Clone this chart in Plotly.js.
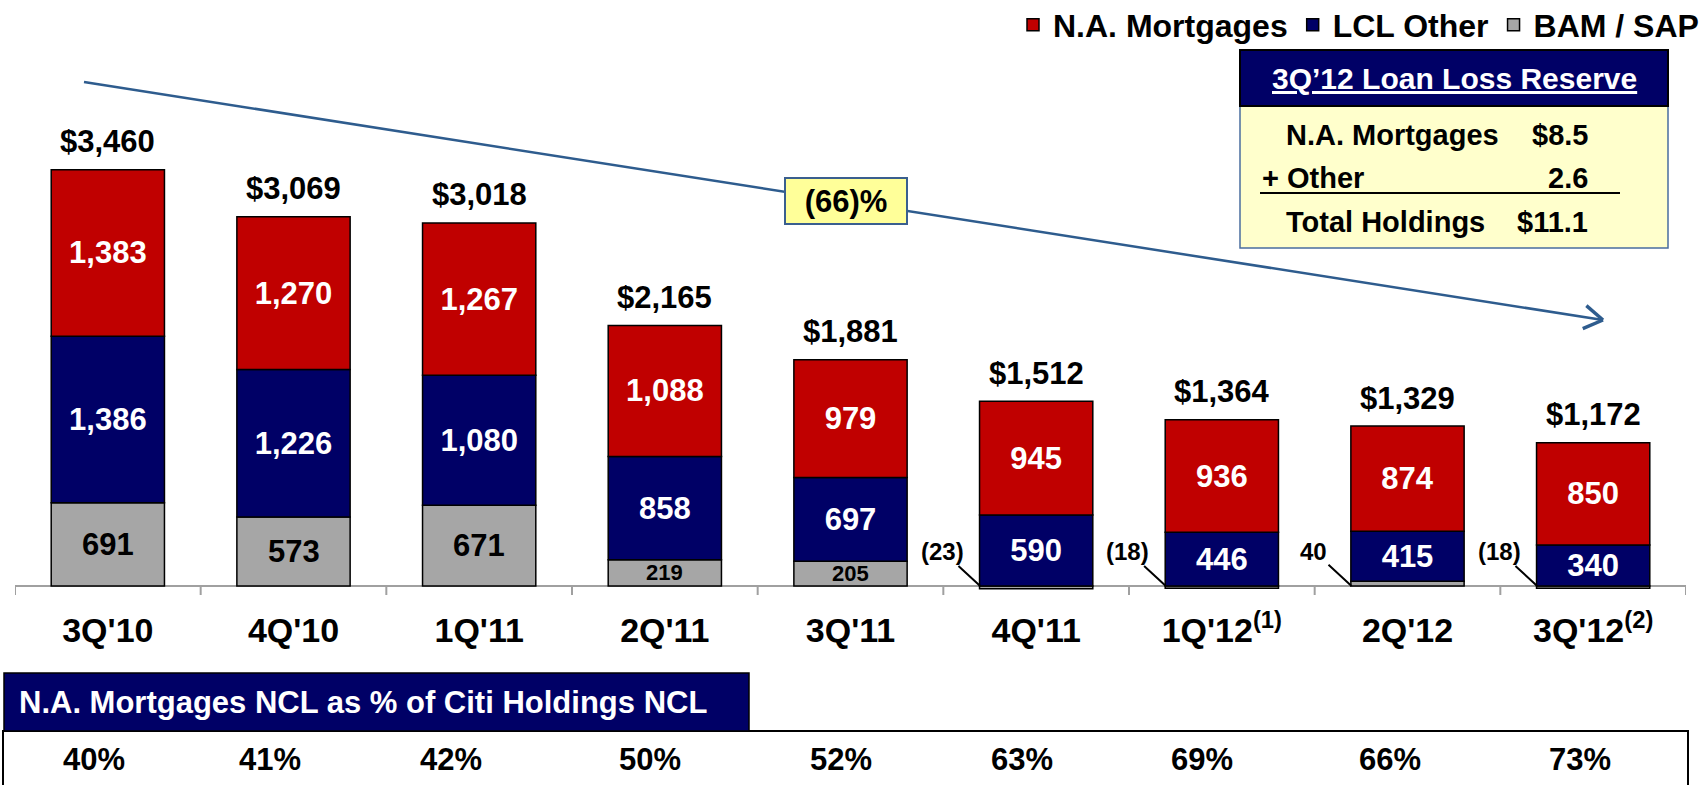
<!DOCTYPE html>
<html>
<head>
<meta charset="utf-8">
<script src="https://cdn.plot.ly/plotly-3.0.1.min.js"></script>
<style>
  html, body { margin: 0; padding: 0; background: #ffffff; }
  #chart { width: 1702px; height: 785px; }
</style>
</head>
<body>
<div id="chart"></div>
<script>
// ---------------- DATA ----------------
const categories = ["3Q'10", "4Q'10", "1Q'11", "2Q'11", "3Q'11", "4Q'11", "1Q'12", "2Q'12", "3Q'12"];
const tickLabels = ["3Q'10", "4Q'10", "1Q'11", "2Q'11", "3Q'11", "4Q'11", "1Q'12<sup>(1)</sup>", "2Q'12", "3Q'12<sup>(2)</sup>"];
const naMortgages = [1383, 1270, 1267, 1088, 979, 945, 936, 874, 850];
const lclOther    = [1386, 1226, 1080, 858, 697, 590, 446, 415, 340];
const bamSap      = [691, 573, 671, 219, 205, -23, -18, 40, -18];
const nclPct      = [40, 41, 42, 50, 52, 63, 69, 66, 73];
const seriesNames = ["N.A. Mortgages", "LCL Other", "BAM / SAP"];
const trendText   = "(66)%";
const llrTitle    = "3Q\u201912 Loan Loss Reserve";
const llrLabels   = ["N.A. Mortgages", "+ Other", "Total Holdings"];
const llrValues   = ["$8.5", "2.6", "$11.1"];
const nclTitle    = "N.A. Mortgages NCL as % of Citi Holdings NCL";

// ---------------- LAYOUT HELPERS ----------------
const W = 1702, H = 785;
const PL = 15, PR = 1686, PT = 60, PB = 596;
const BASE = 586;            // pixel row of the zero line
const PXU = 0.1203;          // pixels per unit
const px2x = p => (p - PL) / (PR - PL);
const py2y = p => (PB - p) / (PB - PT);
const yRange = [-(PB - BASE) / PXU, (BASE - PT) / PXU];
const pctShift = [-14, -24, -28, -15, -10, -14, -20, -18, -13];   // column offsets of the NCL row (px)

const FONT = "Liberation Sans, Arial, Helvetica, sans-serif";
const RED = "#C00000", NAVY = "#000066", GREY = "#A6A6A6", ARROW = "#2E5C8E";

const fmt = v => {
  const s = Math.abs(v).toLocaleString("en-US");
  return v < 0 ? "(" + s + ")" : s;
};

function barTrace(name, vals, color, txtColor, withText) {
  const t = {
    type: "bar",
    name: name,
    x: categories,
    y: vals,
    width: 0.61,
    marker: { color: color, line: { color: "#000000", width: 1.5 } },
    hoverinfo: "skip"
  };
  if (withText) {
    Object.assign(t, {
      text: vals.map(v => fmt(v)),
      textposition: "inside",
      insidetextanchor: "middle",
      constraintext: "none",
      textangle: 0,
      textfont: { family: FONT, size: 31, color: txtColor, weight: "bold" }
    });
  }
  return t;
}

const traces = [
  barTrace(seriesNames[2], bamSap, GREY, "#000000", false),
  barTrace(seriesNames[1], lclOther, NAVY, "#FFFFFF", true),
  barTrace(seriesNames[0], naMortgages, RED, "#FFFFFF", true)
];

const annotations = [];
const shapes = [];

// totals above bars
categories.forEach((c, i) => {
  const vals = [bamSap[i], lclOther[i], naMortgages[i]];
  const total = vals.reduce((a, b) => a + b, 0);
  const top = vals.filter(v => v > 0).reduce((a, b) => a + b, 0);
  annotations.push({
    x: c, y: top, xref: "x", yref: "y",
    text: "$" + fmt(total), showarrow: false,
    yanchor: "middle", yshift: 28,
    font: { family: FONT, size: 31, color: "#000000", weight: "bold" }
  });
});

// BAM/SAP labels: inside the bar when large, outside with a leader line when small
categories.forEach((c, i) => {
  const v = bamSap[i];
  if (v >= 100) {
    annotations.push({
      x: c, y: v / 2, xref: "x", yref: "y",
      text: fmt(v), showarrow: false, xanchor: "center", yanchor: "middle",
      font: { family: FONT, size: v < 300 ? 22 : 31, color: "#000000", weight: "bold" }
    });
  } else {
    annotations.push({
      x: c, y: 0, xref: "x", yref: "y",
      xshift: -56,
      text: fmt(v), showarrow: true, arrowhead: 0, arrowwidth: 2,
      arrowcolor: "#000000", ax: -38, ay: -35, standoff: 0,
      font: { family: FONT, size: 24, color: "#000000", weight: "bold" }
    });
  }
});

// axis line and boundary ticks
shapes.push({
  type: "line", xref: "x", yref: "y", x0: -0.5, x1: categories.length - 0.5, y0: 0, y1: 0,
  line: { color: "#A0A0A0", width: 2 }, layer: "below"
});
for (let i = 0; i <= categories.length; i++) {
  shapes.push({
    type: "line", xref: "x", yref: "y", x0: i - 0.5, x1: i - 0.5, y0: 0, y1: -9 / PXU,
    line: { color: "#A0A0A0", width: 2 }, layer: "below"
  });
}

// trend arrow (line + open chevron head), drawn as shapes
(function () {
  const tail = [84, 82], head = [1603, 320];
  const dx = head[0] - tail[0], dy = head[1] - tail[1];
  const len = Math.hypot(dx, dy);
  const ux = dx / len, uy = dy / len;
  const L = 22, th = 32 * Math.PI / 180;
  const line = (a, b, w) => ({
    type: "line", xref: "paper", yref: "paper",
    x0: px2x(a[0]), y0: py2y(a[1]), x1: px2x(b[0]), y1: py2y(b[1]),
    line: { color: ARROW, width: w }
  });
  shapes.push(line(tail, head, 2.5));
  [th, -th].forEach(t => {
    const rx = ux * Math.cos(t) - uy * Math.sin(t);
    const ry = ux * Math.sin(t) + uy * Math.cos(t);
    shapes.push(line([head[0] - L * rx, head[1] - L * ry], head, 3.5));
  });
})();

annotations.push({
  xref: "paper", yref: "paper", x: px2x(846), y: py2y(201),
  text: trendText, showarrow: false, xanchor: "center", yanchor: "middle",
  width: 118, height: 42, borderpad: 1,
  bgcolor: "#FFFF99", bordercolor: "#3A5F8F", borderwidth: 2,
  font: { family: FONT, size: 31, color: "#000000", weight: "bold" }
});

// Loan loss reserve box
shapes.push({
  type: "rect", xref: "paper", yref: "paper",
  x0: px2x(1240), x1: px2x(1668), y0: py2y(106), y1: py2y(248),
  fillcolor: "#FFFFCC", line: { color: "#4A6E9E", width: 1.5 }
});
shapes.push({
  type: "rect", xref: "paper", yref: "paper",
  x0: px2x(1240), x1: px2x(1668), y0: py2y(50), y1: py2y(106),
  fillcolor: NAVY, line: { color: "#000000", width: 2 }
});
annotations.push({
  xref: "paper", yref: "paper", x: px2x(1454), y: py2y(78),
  text: "<u>" + llrTitle + "</u>", showarrow: false, xanchor: "center", yanchor: "middle",
  font: { family: FONT, size: 30, color: "#FFFFFF", weight: "bold" }
});
const llrRowY = [135, 178, 222];
const llrLabelX = [1284, 1260, 1284];
llrLabels.forEach((t, i) => {
  annotations.push({
    xref: "paper", yref: "paper", x: px2x(llrLabelX[i]), y: py2y(llrRowY[i]),
    text: t, showarrow: false, xanchor: "left", yanchor: "middle",
    font: { family: FONT, size: 29, color: "#000000", weight: "bold" }
  });
  annotations.push({
    xref: "paper", yref: "paper", x: px2x(1590), y: py2y(llrRowY[i]),
    text: llrValues[i], showarrow: false, xanchor: "right", yanchor: "middle",
    font: { family: FONT, size: 29, color: "#000000", weight: "bold" }
  });
});
shapes.push({
  type: "line", xref: "paper", yref: "paper",
  x0: px2x(1260), x1: px2x(1620), y0: py2y(193), y1: py2y(193),
  line: { color: "#000000", width: 2 }
});

// bottom NCL table
shapes.push({
  type: "rect", xref: "paper", yref: "paper",
  x0: px2x(3), x1: px2x(1688), y0: py2y(731), y1: py2y(795),
  fillcolor: "#FFFFFF", line: { color: "#000000", width: 2 }
});
shapes.push({
  type: "rect", xref: "paper", yref: "paper",
  x0: px2x(4), x1: px2x(749), y0: py2y(673), y1: py2y(731),
  fillcolor: NAVY, line: { color: "#000000", width: 1.5 }
});
annotations.push({
  xref: "paper", yref: "paper", x: px2x(17), y: py2y(702),
  text: nclTitle, showarrow: false, xanchor: "left", yanchor: "middle",
  font: { family: FONT, size: 31, color: "#FFFFFF", weight: "bold" }
});
categories.forEach((c, i) => {
  annotations.push({
    x: c, xref: "x", yref: "paper", y: py2y(759), xshift: pctShift[i],
    text: nclPct[i] + "%", showarrow: false, xanchor: "center", yanchor: "middle",
    font: { family: FONT, size: 31, color: "#000000", weight: "bold" }
  });
});

const layout = {
  width: W, height: H,
  margin: { l: PL, r: W - PR, t: PT, b: H - PB, pad: 0, autoexpand: false },
  paper_bgcolor: "#FFFFFF", plot_bgcolor: "#FFFFFF",
  barmode: "relative",
  showlegend: true,
  legend: {
    orientation: "h", traceorder: "reversed",
    x: px2x(1704), xanchor: "right", y: py2y(25), yanchor: "middle",
    font: { family: FONT, size: 32, color: "#000000", weight: "bold" },
    bgcolor: "rgba(0,0,0,0)", itemwidth: 30, itemclick: false, itemdoubleclick: false
  },
  xaxis: {
    type: "category", range: [-0.5, categories.length - 0.5],
    tickmode: "array", tickvals: categories, ticktext: tickLabels,
    ticks: "", showline: false, showgrid: false, zeroline: false,
    ticklabelstandoff: 11,
    tickfont: { family: FONT, size: 34, color: "#000000", weight: "bold" },
    fixedrange: true
  },
  yaxis: {
    range: yRange, visible: false, showgrid: false, zeroline: false, fixedrange: true
  },
  shapes: shapes,
  annotations: annotations,
  hovermode: false
};

Plotly.newPlot("chart", traces, layout, { displayModeBar: false, staticPlot: true });
</script>
</body>
</html>
